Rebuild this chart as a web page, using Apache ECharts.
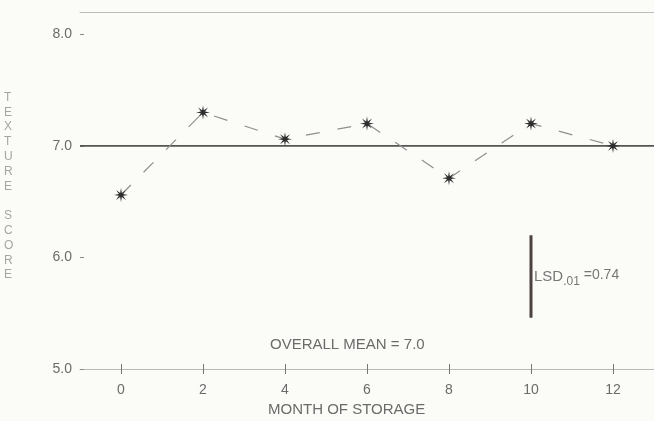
<!DOCTYPE html>
<html>
<head>
<meta charset="utf-8">
<script src="https://cdn.jsdelivr.net/npm/echarts@6/dist/echarts.min.js"></script>
<style>
  html, body { margin: 0; padding: 0; background: #fbfbf8; }
  #chart { width: 654px; height: 421px; }
</style>
</head>
<body>
<div id="chart"></div>
<script>
// Texture score by month of storage
const months = [0, 2, 4, 6, 8, 10, 12];
const textureScores = [6.56, 7.30, 7.06, 7.20, 6.71, 7.20, 7.00];
const scoreTicks = [5, 6, 7, 8];
const monthRange = [-1, 13];
const scoreRange = [5, 8.2];
const overallMean = 7.0;
const lsdValue = 0.74;
const lsdMonth = 10;
const lsdCenter = 5.83;

const FONT = "'Liberation Sans', Arial, sans-serif";
const TEXT = '#6b6b6b';

// eight-pointed asterisk used as point marker
function starPath(points, outer, inner) {
  let d = '';
  for (let i = 0; i < points * 2; i++) {
    const ang = i * Math.PI / points - Math.PI / 2;
    const rad = i % 2 ? inner : outer;
    d += (i ? 'L' : 'M') + (rad * Math.cos(ang)).toFixed(2) + ' ' + (rad * Math.sin(ang)).toFixed(2);
  }
  return 'path://' + d + 'Z';
}

const scorePoints = months.map((m, i) => [m, textureScores[i]]);
const meanLine = monthRange.map(m => [m, overallMean]);
const lsdBar = [[lsdMonth, lsdCenter - lsdValue / 2], [lsdMonth, lsdCenter + lsdValue / 2]];

const chart = echarts.init(document.getElementById('chart'), null, { renderer: 'canvas' });

chart.setOption({
  backgroundColor: '#fbfbf8',
  animation: false,
  grid: { left: 80, right: 0, top: 12, bottom: 52, containLabel: false },
  xAxis: [
    {
      type: 'value', position: 'bottom', min: monthRange[0], max: monthRange[1],
      axisLine: { show: true, onZero: false, lineStyle: { color: '#b8b8b8', width: 1.2 } },
      axisTick: { show: true, customValues: months, length: 5, lineStyle: { color: '#777' } },
      axisLabel: { customValues: months, color: TEXT, fontSize: 14, fontFamily: FONT, margin: 14 },
      splitLine: { show: false }
    },
    {
      type: 'value', position: 'bottom', min: monthRange[0], max: monthRange[1],
      axisLine: { show: false, onZero: false },
      axisTick: { show: true, inside: true, customValues: months, length: 5, lineStyle: { color: '#777' } },
      axisLabel: { show: false },
      splitLine: { show: false }
    },
    {
      type: 'value', position: 'top', min: monthRange[0], max: monthRange[1],
      axisLine: { show: true, onZero: false, lineStyle: { color: '#bdbdbd', width: 1.2 } },
      axisTick: { show: false },
      axisLabel: { show: false },
      splitLine: { show: false }
    }
  ],
  yAxis: {
    type: 'value', position: 'left', min: scoreRange[0], max: scoreRange[1],
    axisLine: { show: false, onZero: false },
    axisTick: { show: true, inside: true, customValues: scoreTicks, length: 4, lineStyle: { color: '#888' } },
    axisLabel: {
      customValues: scoreTicks, color: TEXT, fontSize: 14, fontFamily: FONT, margin: 8,
      formatter: v => v.toFixed(1)
    },
    splitLine: { show: false }
  },
  series: [
    {
      name: 'Overall mean',
      type: 'line', data: meanLine, symbol: 'none', z: 2,
      lineStyle: { color: '#555', width: 1.7 }
    },
    {
      name: 'Texture score',
      type: 'line', data: scorePoints, z: 3,
      symbol: starPath(8, 10, 3.2), symbolSize: 14,
      itemStyle: { color: '#2e2e2e' },
      lineStyle: { color: '#8f8f8f', width: 1.2, type: [14, 18] }
    },
    {
      name: 'LSD',
      type: 'line', data: lsdBar, symbol: 'none', z: 3,
      lineStyle: { color: '#4d433e', width: 3 }
    },
    {
      name: 'LSD label',
      type: 'scatter', data: [[lsdMonth, lsdCenter]], symbolSize: 0, z: 4,
      label: {
        show: true, position: 'right', distance: 3,
        formatter: '{a|LSD}{s|.01}{b| =' + lsdValue.toFixed(2) + '}',
        rich: {
          a: { fontSize: 15, color: '#555', fontFamily: FONT },
          s: { fontSize: 12, color: '#555', fontFamily: FONT, padding: [10, 0, 0, 0] },
          b: { fontSize: 14, color: '#555', fontFamily: FONT, padding: [0, 0, 2, 0] }
        }
      }
    }
  ],
  graphic: [
    {
      type: 'text', left: 270, top: 337,
      style: { text: 'OVERALL MEAN = ' + overallMean.toFixed(1), fill: TEXT, fontSize: 15, fontFamily: FONT }
    },
    {
      type: 'text', left: 268, top: 402,
      style: { text: 'MONTH OF STORAGE', fill: TEXT, fontSize: 15, fontFamily: FONT }
    },
    {
      type: 'text', left: 4, top: 90,
      style: {
        text: 'TEXTURE SCORE'.split('').join('\n'),
        fill: '#a5a5a5', fontSize: 12, fontFamily: FONT, lineHeight: 14.8, align: 'center'
      }
    }
  ]
});
</script>
</body>
</html>
